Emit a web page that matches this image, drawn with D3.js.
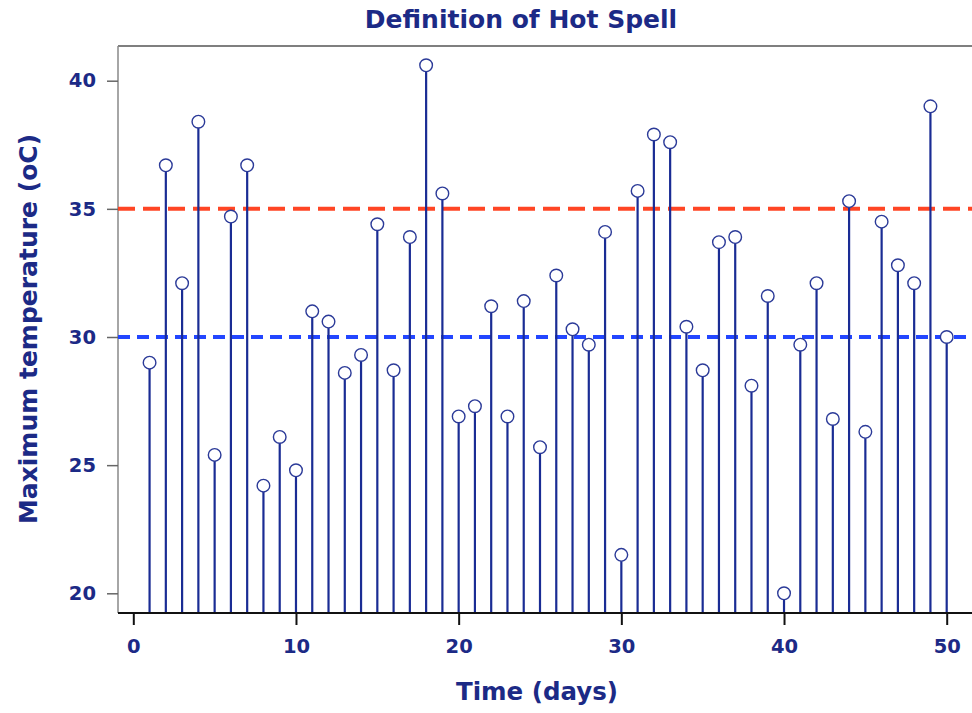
<!DOCTYPE html>
<html>
<head>
<meta charset="utf-8">
<script src="https://cdn.jsdelivr.net/npm/d3@7"></script>
<style>
  body { margin: 0; background: #fff; }
  svg text { font-family: "DejaVu Sans", sans-serif; font-weight: bold; fill: #1c2a86; }
</style>
</head>
<body>
<div id="chart"></div>
<script>
// daily maximum temperatures (oC), days 1..50
var days = d3.range(1, 51);
var tmax = [29.0, 36.7, 32.1, 38.4, 25.4, 34.7, 36.7, 24.2, 26.1, 24.8,
            31.0, 30.6, 28.6, 29.3, 34.4, 28.7, 33.9, 40.6, 35.6, 26.9,
            27.3, 31.2, 26.9, 31.4, 25.7, 32.4, 30.3, 29.7, 34.1, 21.5,
            35.7, 37.9, 37.6, 30.4, 28.7, 33.7, 33.9, 28.1, 31.6, 20.0,
            29.7, 32.1, 26.8, 35.3, 26.3, 34.5, 32.8, 32.1, 39.0, 30.0];
var xTicks = [0, 10, 20, 30, 40, 50];
var yTicks = [20, 25, 30, 35, 40];
var thresholds = [
    {value: 35, color: "#ff4524", dash: "17,8"},
    {value: 30, color: "#2346ff", dash: "12,7"}
];

var W = 972, H = 713;
var frame = {left: 118, top: 46, right: 972, bottom: 613};

var svg = d3.select("#chart").append("svg")
    .attr("width", W)
    .attr("height", H);

var x = d3.scaleLinear().domain([0, 50]).range([133.3, 946.7]);
var y = d3.scaleLinear().domain([20, 40]).range([593.3, 80.7]);

// frame: top and left grey, bottom black
svg.append("line")
    .attr("x1", frame.left).attr("x2", frame.right)
    .attr("y1", frame.top).attr("y2", frame.top)
    .attr("stroke", "#555").attr("stroke-width", 1.5);
svg.append("line")
    .attr("x1", frame.left).attr("x2", frame.left)
    .attr("y1", frame.top).attr("y2", frame.bottom)
    .attr("stroke", "#888").attr("stroke-width", 1.5);

// y axis
var yAxis = svg.append("g")
    .attr("transform", "translate(" + frame.left + ",0)")
    .call(d3.axisLeft(y).tickValues(yTicks).tickSize(11).tickPadding(11));
yAxis.select(".domain").remove();
yAxis.selectAll("line").attr("stroke", "#666").attr("stroke-width", 1.5);
yAxis.selectAll("text")
    .style("font-size", "19.5px")
    .attr("font-family", null)
    .attr("fill", null);

// threshold lines
svg.selectAll(".thr")
    .data(thresholds)
    .enter().append("line")
    .attr("class", "thr")
    .attr("x1", frame.left).attr("x2", frame.right)
    .attr("y1", d => y(d.value)).attr("y2", d => y(d.value))
    .attr("stroke", d => d.color)
    .attr("stroke-width", 4)
    .attr("stroke-dasharray", d => d.dash);

// stems
var pts = days.map((d, i) => ({day: d, t: tmax[i]}));
svg.selectAll(".stem")
    .data(pts)
    .enter().append("line")
    .attr("class", "stem")
    .attr("x1", d => x(d.day)).attr("x2", d => x(d.day))
    .attr("y1", frame.bottom).attr("y2", d => y(d.t))
    .attr("stroke", "#1a2c94")
    .attr("stroke-width", 2.2);

// x axis
var xAxis = svg.append("g")
    .attr("transform", "translate(0," + frame.bottom + ")")
    .call(d3.axisBottom(x).tickValues(xTicks).tickSize(12).tickPadding(14));
xAxis.select(".domain").remove();
xAxis.selectAll("line").attr("stroke", "#111").attr("stroke-width", 2);
xAxis.selectAll("text")
    .style("font-size", "19.5px")
    .attr("font-family", null)
    .attr("fill", null);
svg.append("line")
    .attr("x1", frame.left).attr("x2", frame.right)
    .attr("y1", frame.bottom).attr("y2", frame.bottom)
    .attr("stroke", "#111").attr("stroke-width", 2.2);

// circles
svg.selectAll(".pt")
    .data(pts)
    .enter().append("circle")
    .attr("class", "pt")
    .attr("cx", d => x(d.day))
    .attr("cy", d => y(d.t))
    .attr("r", 6.3)
    .attr("fill", "#fff")
    .attr("stroke", "#2b3a98")
    .attr("stroke-width", 1.4);

// titles
svg.append("text")
    .attr("x", 521).attr("y", 28)
    .attr("text-anchor", "middle")
    .style("font-size", "25px")
    .text("Definition of Hot Spell");

svg.append("text")
    .attr("x", 537).attr("y", 700)
    .attr("text-anchor", "middle")
    .style("font-size", "24.5px")
    .text("Time (days)");

svg.append("text")
    .attr("transform", "translate(37,329) rotate(-90)")
    .attr("text-anchor", "middle")
    .style("font-size", "25px")
    .text("Maximum temperature (oC)");
</script>
</body>
</html>
